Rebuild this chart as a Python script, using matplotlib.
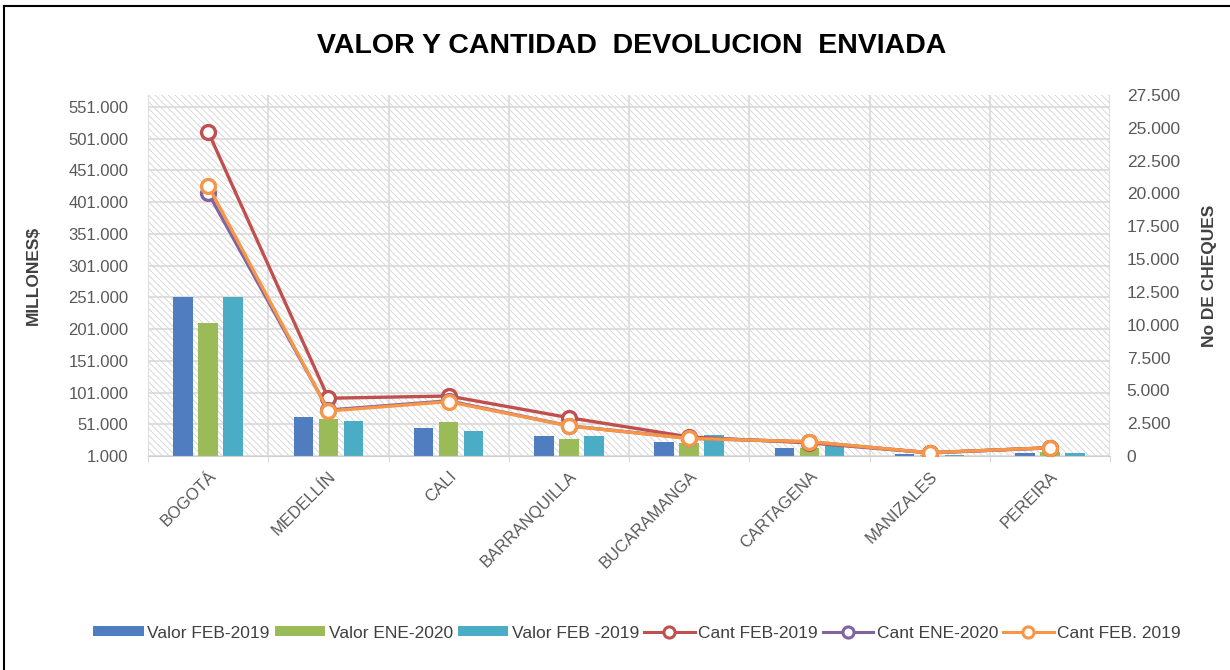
import matplotlib
matplotlib.use("Agg")
import matplotlib.pyplot as plt
from matplotlib.patches import Rectangle, Patch
from matplotlib.lines import Line2D
import numpy as np

plt.rcParams['font.family'] = ['Liberation Sans', 'DejaVu Sans']
plt.rcParams['hatch.linewidth'] = 0.6

categories = ["BOGOTÁ", "MEDELLÍN", "CALI", "BARRANQUILLA", "BUCARAMANGA",
              "CARTAGENA", "MANIZALES", "PEREIRA"]

# Valor (left axis, MILLONES$)
valor_feb_2019 = [251000, 63000, 45000, 33000, 23000, 13000, 4000, 6000]
valor_ene_2020 = [210000, 60000, 54000, 28000, 21000, 13000, 3000, 8000]
valor_feb_2019b = [251000, 56000, 40000, 33000, 34000, 16000, 2000, 5000]

# Cantidad (right axis, No DE CHEQUES)
cant_feb_2019 = [24700, 4400, 4570, 2920, 1450, 1000, 250, 630]
cant_ene_2020 = [20050, 3500, 4200, 2300, 1350, 1080, 240, 620]
cant_feb_2019b = [20600, 3430, 4140, 2290, 1340, 1090, 250, 630]

left_ticks = list(range(1000, 551001, 50000))
right_ticks = list(range(0, 27501, 2500))

bar_colors = ["#4F7DC0", "#9BBB59", "#4BACC6"]
line_colors = ["#C0504D", "#8064A2", "#F79646"]
bar_labels = ["Valor FEB-2019", "Valor ENE-2020", "Valor FEB -2019"]
line_labels = ["Cant FEB-2019", "Cant ENE-2020", "Cant FEB. 2019"]

def fmt(v):
    return f"{v:,}".replace(",", ".")

W, H = 1230, 670
fig = plt.figure(figsize=(W / 100, H / 100), dpi=100)
fig.patch.set_facecolor("white")

# border lines (left and top)
fig.add_artist(Line2D([4 / W, 4 / W], [0, 1 - 6 / H], color="black", lw=1.5))
fig.add_artist(Line2D([4 / W, 1], [1 - 6 / H, 1 - 6 / H], color="black", lw=1.5))

left, right, bottom, top = 148 / W, 1110 / W, 1 - 456 / H, 1 - 95 / H
ax = fig.add_axes([left, bottom, right - left, top - bottom])
ax.set_facecolor("none")
ax.add_patch(Rectangle((0, 0), 1, 1, transform=ax.transAxes, facecolor="white",
                       edgecolor="#D2D2D2", hatch="\\\\\\\\\\", lw=0, zorder=-2))

x = np.arange(len(categories))
bw = 0.163
offs = [-0.208, 0.0, 0.208]
for vals, c, o, lab in zip([valor_feb_2019, valor_ene_2020, valor_feb_2019b],
                           bar_colors, offs, bar_labels):
    ax.bar(x + o, vals, width=bw, color=c, label=lab, zorder=2)

ax.set_xlim(-0.5, len(categories) - 0.5)
ax.set_ylim(1000, 570000)
ax.set_yticks(left_ticks)
ax.set_yticklabels([fmt(v) for v in left_ticks])
ax.set_xticks(x)
ax.set_xticklabels(categories, rotation=45, ha="right", va="top",
                   rotation_mode="anchor")
ax.set_xticks(np.arange(-0.5, len(categories), 1.0), minor=True)
ax.tick_params(axis="x", which="major", length=0, pad=9, labelsize=12,
               labelcolor="#595959")
ax.tick_params(axis="x", which="minor", length=4, color="#D0D0D0")
ax.tick_params(axis="y", length=0, labelsize=12, labelcolor="#595959", pad=14)
ax.grid(axis="y", color="#D9D9D9", lw=1.2, zorder=0)
ax.grid(axis="x", which="minor", color="#D9D9D9", lw=1.2, zorder=0)
ax.set_axisbelow(True)
for s in ["top", "right", "left"]:
    ax.spines[s].set_visible(False)
ax.spines["bottom"].set_color("#D0D0D0")
ax.set_ylabel("MILLONES$", fontsize=12.5, fontweight="bold", color="#404040",
              labelpad=20)

ax2 = ax.twinx()
ax2.set_ylim(0, 27500)
ax2.set_yticks(right_ticks)
ax2.set_yticklabels([fmt(v) for v in right_ticks])
ax2.tick_params(axis="y", length=0, labelsize=12.5, labelcolor="#595959", pad=12)
for s in ax2.spines.values():
    s.set_visible(False)
for vals, c, lab in zip([cant_feb_2019, cant_ene_2020, cant_feb_2019b],
                        line_colors, line_labels):
    ax2.plot(x, vals, color=c, lw=2.4, marker="o", markersize=10,
             markerfacecolor="white", markeredgecolor=c, markeredgewidth=2.4,
             label=lab, zorder=3)
ax2.set_ylabel("No DE CHEQUES", fontsize=12.5, fontweight="bold", color="#404040",
               labelpad=16, rotation=90)

fig.text(632 / W, 1 - 46 / H, "VALOR Y CANTIDAD  DEVOLUCION  ENVIADA",
         ha="center", va="center", fontsize=20.5, fontweight="bold", color="black")

handles = [Patch(facecolor=c, edgecolor="none") for c in bar_colors]
handles += [Line2D([], [], color=c, lw=2.2, marker="o", markersize=8,
                   markerfacecolor="white", markeredgecolor=c, markeredgewidth=2.2)
            for c in line_colors]
leg = fig.legend(handles, bar_labels + line_labels, loc="center",
                 bbox_to_anchor=(637 / W, 1 - 633 / H), ncol=6, frameon=False,
                 fontsize=12.5, handlelength=2.9, handleheight=0.5,
                 handletextpad=0.2, columnspacing=0.3, labelcolor="#404040")

fig.savefig("out.png", dpi=100)
